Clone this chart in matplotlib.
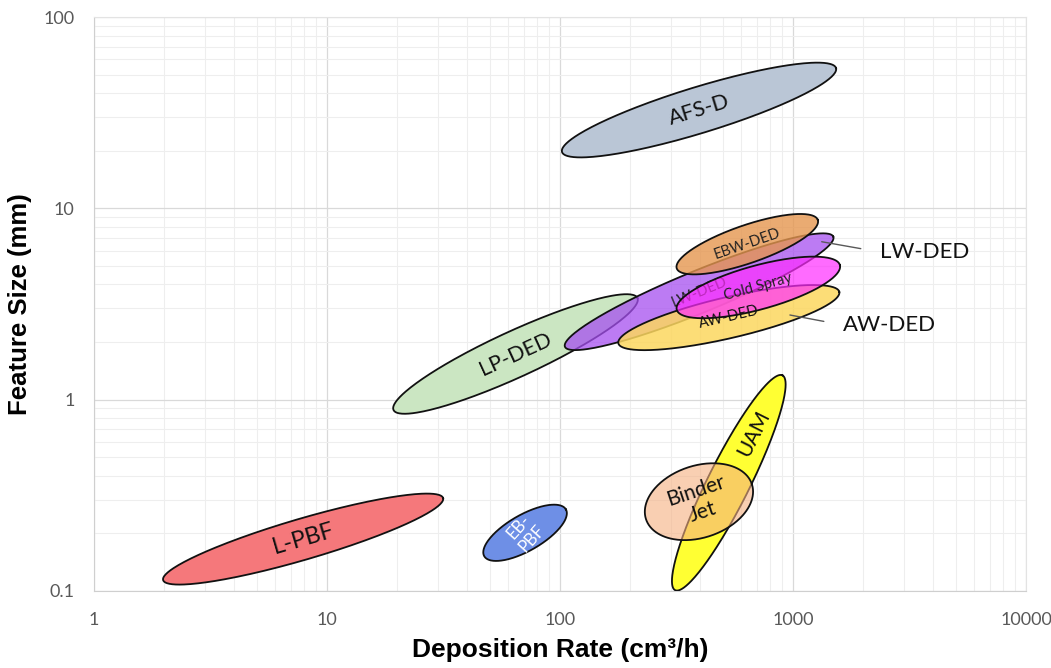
import numpy as np
import matplotlib
matplotlib.use("Agg")
import matplotlib.pyplot as plt
from matplotlib.ticker import FixedLocator, LogLocator, NullFormatter

# process windows: deposition rate (cm3/h) and feature size (mm) at the two tips of each ellipse
names = ["AFS-D", "L-PBF", "EB-PBF", "LP-DED", "LW-DED", "EBW-DED",
         "AW-DED", "Cold Spray", "UAM", "Binder Jet"]
rate_lo = [102, 1.98, 47.3, 19.3, 105, 317, 178, 317, 312, 234]
rate_hi = [1530, 31.5, 106, 215, 1489, 1278, 1580, 1590, 901, 666]
size_lo = [19.7, 0.114, 0.152, 0.883, 1.89, 4.85, 1.97, 2.95, 0.101, 0.237]
size_hi = [54.1, 0.306, 0.267, 3.40, 7.11, 8.70, 3.66, 5.05, 1.34, 0.362]

x_ticks = [1, 10, 100, 1000, 10000]
x_tick_labels = ["1", "10", "100", "1000", "10000"]
y_ticks = [0.1, 1, 10, 100]
y_tick_labels = ["0.1", "1", "10", "100"]

# look of each ellipse
style = {
    "AFS-D":      dict(color="#bac6d6", alpha=1.0,  thick=46, fs=15.5, tc="#111111"),
    "L-PBF":      dict(color="#f5787b", alpha=1.0,  thick=41, fs=17, tc="#111111"),
    "EB-PBF":     dict(color="#6e8fe6", alpha=1.0,  thick=36, fs=12, tc="white", rot=48, text="EB-\nPBF"),
    "LP-DED":     dict(color="#cbe6c2", alpha=1.0,  thick=46, fs=15.5, tc="#111111"),
    "LW-DED":     dict(color="#a64ff0", alpha=0.75, thick=42, fs=10.5, tc="#222222", low=True),
    "EBW-DED":    dict(color="#e5964f", alpha=0.8,  thick=38, fs=10.5, tc="#222222"),
    "AW-DED":     dict(color="#fcd75f", alpha=0.85, thick=41, fs=10.5, tc="#111111"),
    "Cold Spray": dict(color="#ff2cff", alpha=0.7,  thick=44, fs=10.5, tc="#222222"),
    "UAM":        dict(color="#ffff33", alpha=1.0,  thick=42, fs=15, tc="#111111", t=0.73),
    "Binder Jet": dict(color="#f5b080", alpha=0.6,  thick=72, fs=15, tc="#111111", text="Binder\nJet"),
}

plt.rcParams["font.family"] = ["Lato", "DejaVu Sans"]

fig = plt.figure(figsize=(10.51, 6.68), dpi=100)
ax = fig.add_axes([0.08944, 0.11527, 0.88677, 0.85928])
ax.set_xscale("log")
ax.set_yscale("log")
ax.set_xlim(1, 10000)
ax.set_ylim(0.1, 100)

ax.xaxis.set_major_locator(FixedLocator(x_ticks))
ax.yaxis.set_major_locator(FixedLocator(y_ticks))
ax.set_xticklabels(x_tick_labels)
ax.set_yticklabels(y_tick_labels)
ax.xaxis.set_minor_locator(LogLocator(base=10, subs=range(2, 10)))
ax.yaxis.set_minor_locator(LogLocator(base=10, subs=range(2, 10)))
ax.xaxis.set_minor_formatter(NullFormatter())
ax.yaxis.set_minor_formatter(NullFormatter())
ax.tick_params(which="both", length=0)
ax.tick_params(axis="x", pad=15, labelsize=13, labelcolor="#595959")
ax.tick_params(axis="y", pad=14, labelsize=13, labelcolor="#595959")
ax.grid(which="major", color="#d9d9d9", linewidth=0.9)
ax.grid(which="minor", color="#eeeeee", linewidth=0.8)
ax.set_axisbelow(True)
for side in ["top", "right"]:
    ax.spines[side].set_color("#e3e3e3")
for side in ["left", "bottom"]:
    ax.spines[side].set_color("#cfcfcf")

ax.set_xlabel("Deposition Rate (cm³/h)", fontsize=19, fontweight="bold",
              family="Liberation Sans", labelpad=7)
ax.set_ylabel("Feature Size (mm)", fontsize=18.5, fontweight="bold",
              family="Liberation Sans", labelpad=8)

# pixels per decade, so ellipses look like real ellipses on screen
bb = ax.get_window_extent()
kx = bb.width / 4.0
ky = bb.height / 3.0

tt = np.linspace(0, 2 * np.pi, 300)
for i, name in enumerate(names):
    s = style[name]
    u1, v1 = np.log10(rate_lo[i]) * kx, np.log10(size_lo[i]) * ky
    u2, v2 = np.log10(rate_hi[i]) * kx, np.log10(size_hi[i]) * ky
    cu, cv = (u1 + u2) / 2, (v1 + v2) / 2
    a = np.hypot(u2 - u1, v2 - v1) / 2
    b = s["thick"] / 2
    ang = np.arctan2(v2 - v1, u2 - u1)
    pu = cu + a * np.cos(tt) * np.cos(ang) - b * np.sin(tt) * np.sin(ang)
    pv = cv + a * np.cos(tt) * np.sin(ang) + b * np.sin(tt) * np.cos(ang)
    z = 3 + i
    ax.fill(10 ** (pu / kx), 10 ** (pv / ky), facecolor=s["color"], alpha=s["alpha"],
            edgecolor="none", zorder=z)
    ax.plot(10 ** (pu / kx), 10 ** (pv / ky), color="#111111", lw=1.3, zorder=z + 0.1)

    t = s.get("t", 0.5)
    lu = u1 + t * (u2 - u1)
    lv = v1 + t * (v2 - v1)
    rot = s.get("rot", np.degrees(ang))
    ax.text(10 ** (lu / kx), 10 ** (lv / ky), s.get("text", name), fontsize=s["fs"],
            color=s["tc"], rotation=rot, rotation_mode="anchor", ha="center",
            va="center", linespacing=1.15, zorder=z + 0.5 if s.get("low") else 30)

# callouts on the right
ax.annotate("LW-DED", xy=(1328, 6.69), xytext=(2362, 5.91), fontsize=16,
            color="#111111", ha="left", va="center", zorder=31,
            arrowprops=dict(arrowstyle="-", color="#595959", lw=1,
                            shrinkA=12, shrinkB=0, relpos=(0, 0.5)))
ax.annotate("AW-DED", xy=(970, 2.77), xytext=(1639, 2.456), fontsize=16,
            color="#111111", ha="left", va="center", zorder=31,
            arrowprops=dict(arrowstyle="-", color="#595959", lw=1,
                            shrinkA=12, shrinkB=0, relpos=(0, 0.5)))

fig.savefig("out.png", dpi=100)
